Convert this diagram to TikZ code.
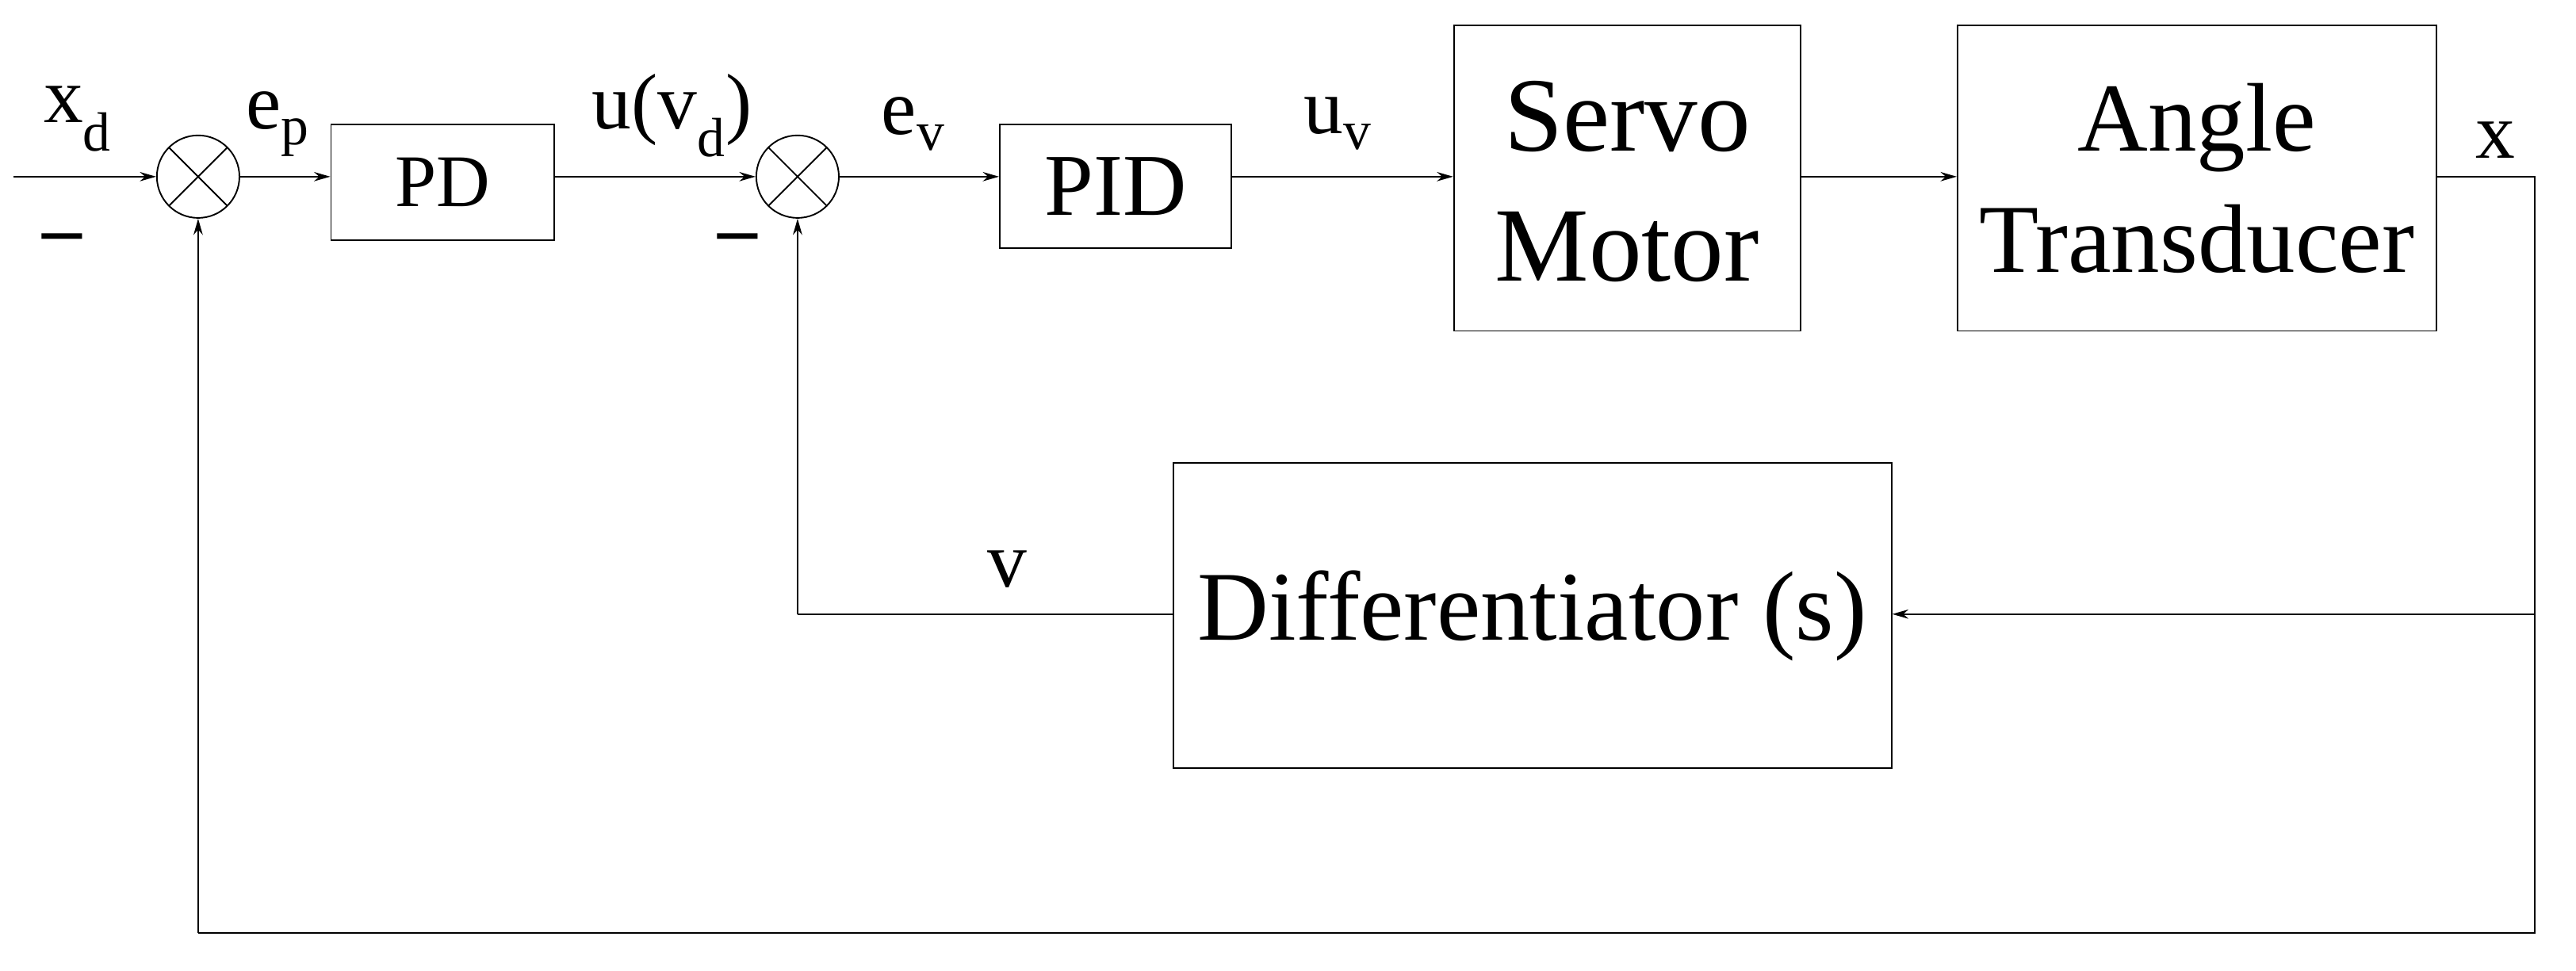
\documentclass[tikz,border=0pt]{standalone}
\usepackage{fontspec}
\setmainfont{Liberation Serif}
\usetikzlibrary{arrows.meta}
\begin{document}
\begin{tikzpicture}[x=0.05cm,y=-0.05cm,line width=1.3pt,
  blk/.style={draw,inner sep=0pt,anchor=north west},
  sum/.style={draw,circle,minimum size=2.5cm,inner sep=0pt,path picture={\draw (path picture bounding box.north west)--(path picture bounding box.south east) (path picture bounding box.north east)--(path picture bounding box.south west);}},
  ar/.style={-{Stealth[length=14pt,width=8pt]}},
  lab/.style={font=\fontsize{68}{72}\selectfont},
  big/.style={align=center}]
\useasboundingbox (0,0) rectangle (1560,588);
\node[sum] (s1) at (120,107) {};
\node[sum] (s2) at (483,107) {};
\node[blk,minimum width=6.75cm,minimum height=3.5cm] (pd) at (200,75) {};
\node[font=\fontsize{64}{68}\selectfont] at (pd.center) {PD};
\node[blk,minimum width=7cm,minimum height=3.75cm] (pid) at (605,75) {};
\node[font=\fontsize{76}{80}\selectfont] at (pid.center) {PID};
\node[blk,minimum width=10.5cm,minimum height=9.25cm] (sm) at (880,15) {};
\node[big,font=\fontsize{91}{112}\selectfont] at ([yshift=-0.1cm]sm.center) {Servo\\Motor};
\node[blk,minimum width=14.5cm,minimum height=9.25cm] (at) at (1185,15) {};
\node[big,font=\fontsize{84}{104}\selectfont] at (at.center) {Angle\\Transducer};
\node[blk,minimum width=21.75cm,minimum height=9.25cm] (df) at (710,280) {};
\node[big,font=\fontsize{85}{90}\selectfont] at (df.center) {Differentiator (s)};
\coordinate (in) at (8,107);
\coordinate (o1) at (1535,107);
\coordinate (o2) at (1535,565);
\coordinate (o3) at (1535,372);
\coordinate (b1) at (120,565);
\coordinate (v1) at (483,372);
\draw[ar] (in) -- (s1.west);
\draw[ar] (s1.east) -- (pd.west |- s1);
\draw[ar] (pd.east |- s2) -- (s2.west);
\draw[ar] (s2.east) -- (pid.west |- s2);
\draw[ar] (pid.east |- s2) -- (sm.west |- s2);
\draw[ar] (sm.east |- s2) -- (at.west |- s2);
\draw (at.east |- o1) -- (o1) -- (o2) -- (b1);
\draw[ar] (b1) -- (s1.south);
\draw[ar] (o3) -- (df.east |- o3);
\draw (df.west |- v1) -- (v1);
\draw[ar] (v1) -- (s2.south);
\node[lab] at (47,72) {x\textsubscript{d}};
\node[lab] at (168,75) {e\textsubscript{p}};
\node[lab] at (407,70) {u(v\textsubscript{d})};
\node[lab] at (553,75) {e\textsubscript{v}};
\node[lab] at (810,75) {u\textsubscript{v}};
\node[lab] at (1511,85) {x};
\node[lab] at (610,345) {v};
\node[lab] at (38,148) {\textbf{--}};
\node[lab] at (447,148) {\textbf{--}};
\end{tikzpicture}
\end{document}
